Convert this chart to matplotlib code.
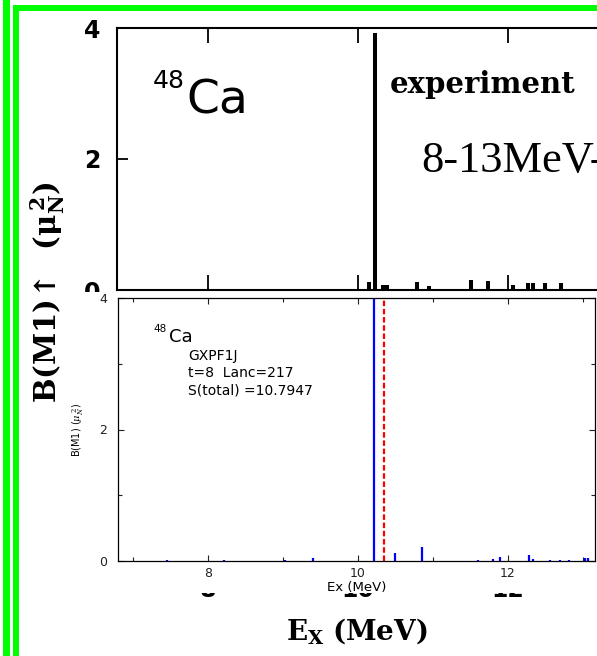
import matplotlib
matplotlib.use('Agg')
import matplotlib.pyplot as plt
from matplotlib.patches import Rectangle
from matplotlib.transforms import blended_transform_factory

# ---------------- data ----------------
# experiment (top panel)
exp_energy = [10.15, 10.23, 10.33, 10.38, 10.78, 10.95, 11.50, 11.73, 12.06, 12.27, 12.33, 12.49, 12.71]
exp_bm1 = [0.12, 3.92, 0.08, 0.08, 0.12, 0.06, 0.16, 0.14, 0.08, 0.10, 0.10, 0.10, 0.10]
# GXPF1J calculation (bottom panel)
calc_energy = [7.45, 8.21, 9.03, 9.40, 10.21, 10.49, 10.85, 11.60, 11.80, 11.89, 12.28, 12.33,
               12.56, 12.69, 12.81, 13.03, 13.06]
calc_bm1 = [0.01, 0.01, 0.01, 0.04, 4.50, 0.12, 0.21, 0.02, 0.03, 0.06, 0.09, 0.03,
            0.01, 0.01, 0.01, 0.05, 0.05]
exp_centroid = 10.35

x_major = [8, 10, 12]
x_minor = [7, 9, 11, 13]
y_major = [0, 2, 4]
y_minor = [1, 3]
x_major_labels = ['8', '10', '12']
y_major_labels = ['0', '2', '4']

# ---------------- layout helpers ----------------
W, H, DPI = 597, 656, 100
fig = plt.figure(figsize=(W / DPI, H / DPI), dpi=DPI)
plt.rcParams['mathtext.fontset'] = 'dejavuserif'


def fx(px):
    return px / W


def fy(py):
    return 1 - py / H


def rect_px(l, t, r, b):
    return [fx(l), fy(b), fx(r) - fx(l), fy(t) - fy(b)]


GREEN = '#00ff00'

# ---------------- top (experiment) panel ----------------
ax_top = fig.add_axes(rect_px(117, 28, 605, 290))
ax_top.set_zorder(1)
ax_top.vlines(exp_energy, 0, exp_bm1, colors='black', linewidth=2.9)
ax_top.set_xlim(6.787, 13.293)
ax_top.set_ylim(0, 4)
ax_top.set_xticks(x_major)
ax_top.set_yticks(y_major)
ax_top.set_yticklabels(y_major_labels)
ax_top.tick_params(axis='x', which='major', direction='in', length=11, width=1.3,
                   top=True, bottom=True, labelbottom=False)
ax_top.tick_params(axis='y', which='major', direction='in', length=8, width=1.3,
                   left=True, right=False, labelsize=17, pad=12)
for lab in ax_top.get_yticklabels():
    lab.set_fontweight('bold')
for sp in ax_top.spines.values():
    sp.set_linewidth(1.5)

# lower-panel tick labels of the original scan, mostly hidden under the pasted panel
blend = blended_transform_factory(ax_top.transData, fig.transFigure)
for xv, lab in zip(x_major, x_major_labels):
    ax_top.text(xv, fy(597), lab, transform=blend, ha='center', va='baseline',
                fontsize=17, fontweight='bold', clip_on=False)

fig.text(fx(153), fy(88), '48', fontsize=18, ha='left', va='baseline',
         family=['Liberation Sans Narrow', 'DejaVu Sans'], zorder=6)
fig.text(fx(186), fy(113), 'Ca', fontsize=34, ha='left', va='baseline',
         family=['Liberation Sans Narrow', 'DejaVu Sans'], zorder=6)
fig.text(fx(390), fy(93), 'experiment', fontsize=21, fontweight='bold',
         family='DejaVu Serif', ha='left', va='baseline', zorder=6)
fig.text(fx(421), fy(172), '8-13MeV-', fontsize=32, family='Liberation Serif',
         ha='left', va='baseline', zorder=6)
fig.text(fx(48), fy(292), r'$\mathbf{B(M1)\!\uparrow\ \ (\mu_N^{\,2})}$', fontsize=21,
         rotation=90, ha='center', va='center', zorder=6)
fig.text(fx(357), fy(640), r'$\mathbf{E_X}$ $\mathbf{(MeV)}$', fontsize=20,
         ha='center', va='baseline', zorder=6)

# white cover of the pasted calculation panel
fig.add_artist(Rectangle((fx(62), fy(593)), fx(640) - fx(62), fy(292) - fy(593),
                         transform=fig.transFigure, facecolor='white',
                         edgecolor='none', zorder=2))

# ---------------- bottom (calculation) panel ----------------
ax_bot = fig.add_axes(rect_px(118, 298, 595, 561))
ax_bot.set_zorder(3)
ax_bot.vlines(calc_energy, 0, calc_bm1, colors='#0000ff', linewidth=1.6)
ax_bot.vlines([exp_centroid], 0, 4, colors='#ff0000', linewidth=1.6,
              linestyles=(0, (2.5, 1.2)))
ax_bot.set_xlim(6.8, 13.16)
ax_bot.set_ylim(0, 4)
ax_bot.set_xticks(x_major)
ax_bot.set_xticklabels(x_major_labels)
ax_bot.set_xticks(x_minor, minor=True)
ax_bot.set_yticks(y_major)
ax_bot.set_yticklabels(y_major_labels)
ax_bot.set_yticks(y_minor, minor=True)
ax_bot.tick_params(which='both', direction='in', top=True, right=True, width=0.8,
                   labelsize=9, colors='#222222')
ax_bot.tick_params(which='major', length=4.5)
ax_bot.tick_params(which='minor', length=3)
ax_bot.tick_params(axis='x', pad=4)
ax_bot.tick_params(axis='y', pad=8)
for sp in ax_bot.spines.values():
    sp.set_linewidth(0.9)
ax_bot.set_xlabel('Ex (MeV)', fontsize=9.5, labelpad=1)
ax_bot.set_ylabel(r'B(M1) ($\mu_N^{\ 2}$)', fontsize=7, labelpad=9)

fig.text(fx(153), fy(332), '48', fontsize=7.5, ha='left', va='baseline', zorder=6)
fig.text(fx(169), fy(342), 'Ca', fontsize=13, ha='left', va='baseline', zorder=6)
fig.text(fx(188), fy(360), 'GXPF1J', fontsize=10, ha='left', va='baseline', zorder=6)
fig.text(fx(188), fy(377), 't=8  Lanc=217', fontsize=10, ha='left', va='baseline', zorder=6)
fig.text(fx(188), fy(395), 'S(total) =10.7947', fontsize=10, ha='left', va='baseline', zorder=6)

# ---------------- green frame ----------------
for (l, t, r, b) in [(3.3, -2, 10, 660), (12.7, 5, 18.7, 660), (12.7, 5, 600, 11)]:
    fig.add_artist(Rectangle((fx(l), fy(b)), fx(r) - fx(l), fy(t) - fy(b),
                             transform=fig.transFigure, facecolor=GREEN,
                             edgecolor='none', zorder=10))

fig.savefig('out.png', dpi=DPI)
